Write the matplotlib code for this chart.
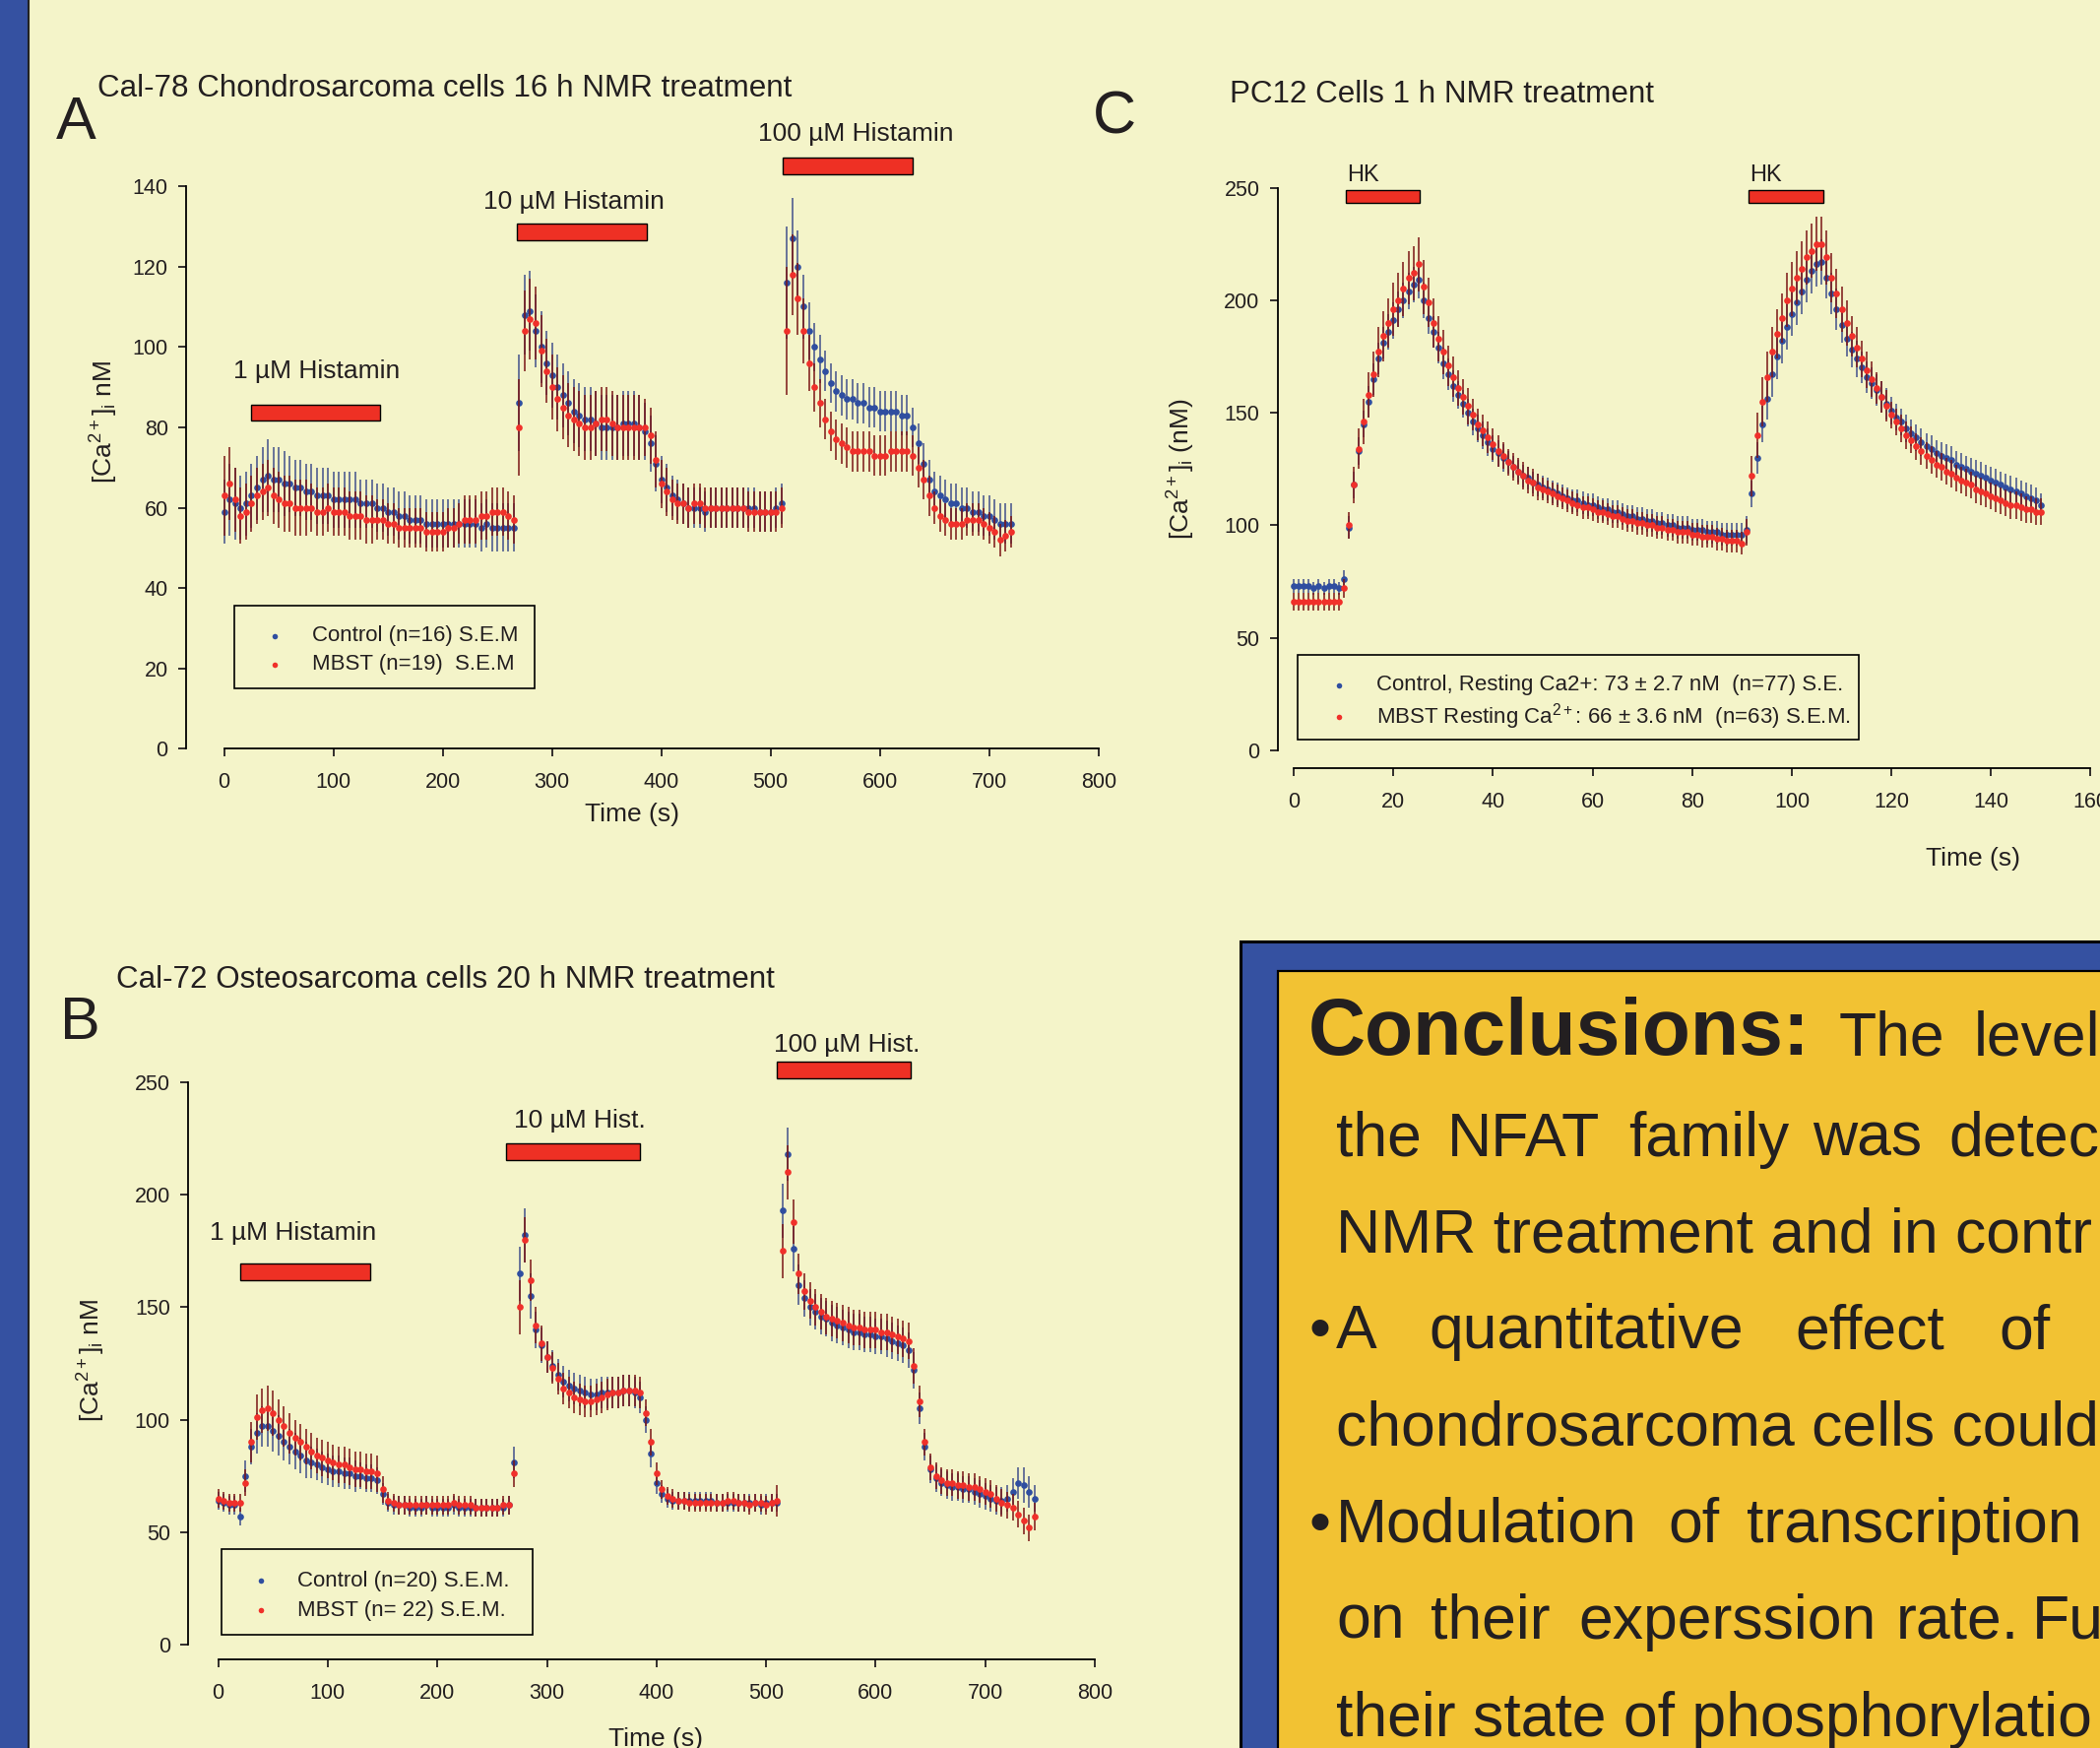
import numpy as np
import matplotlib
matplotlib.use("Agg")
import matplotlib.pyplot as plt
from matplotlib.patches import Rectangle
from matplotlib.lines import Line2D

plt.rcParams['font.family'] = ['Liberation Sans', 'DejaVu Sans']
plt.rcParams['mathtext.fontset'] = 'custom'
plt.rcParams['mathtext.rm'] = 'Liberation Sans'
plt.rcParams['mathtext.it'] = 'Liberation Sans:italic'
plt.rcParams['mathtext.bf'] = 'Liberation Sans:bold'

# ---------------- data ----------------
# panel A: Cal-78 chondrosarcoma, sampled every 5 s (0..720 s)
t_a = np.arange(0, 721, 5)
ctrl_a = [59, 62, 61, 60, 61, 63, 65, 67, 68, 67,
          67, 66, 66, 65, 65, 64, 64, 63, 63, 63,
          62, 62, 62, 62, 62, 61, 61, 61, 60, 60,
          59, 59, 58, 58, 57, 57, 57, 56, 56, 56,
          56, 56, 56, 56, 56, 56, 56, 55, 56, 55,
          55, 55, 55, 55, 86, 108, 109, 104, 100, 96,
          93, 90, 88, 86, 84, 83, 82, 82, 81, 80,
          80, 80, 80, 81, 81, 81, 80, 79, 76, 71,
          67, 65, 63, 62, 61, 60, 60, 60, 59, 60,
          60, 60, 60, 60, 60, 60, 60, 60, 59, 59,
          59, 60, 61, 116, 127, 120, 110, 104, 100, 97,
          94, 91, 89, 88, 87, 87, 86, 86, 85, 85,
          84, 84, 84, 84, 83, 83, 80, 76, 71, 67,
          64, 63, 62, 61, 61, 60, 60, 59, 59, 58,
          58, 57, 56, 56, 56]
ctrl_a_sem = [8, 9, 9, 8, 8, 8, 8, 8, 9, 8,
              8, 8, 7, 7, 7, 7, 7, 7, 7, 7,
              7, 7, 7, 7, 7, 6, 6, 6, 6, 6,
              6, 6, 6, 6, 6, 6, 6, 6, 6, 6,
              6, 6, 6, 6, 6, 6, 6, 6, 6, 6,
              6, 6, 6, 6, 12, 10, 10, 9, 9, 8,
              8, 8, 8, 8, 8, 8, 8, 8, 8, 8,
              8, 8, 8, 8, 8, 8, 8, 7, 7, 7,
              6, 6, 5, 5, 5, 5, 5, 5, 5, 5,
              5, 5, 5, 5, 5, 5, 5, 5, 5, 5,
              5, 5, 5, 14, 10, 9, 8, 7, 6, 6,
              5, 5, 5, 5, 5, 5, 5, 5, 5, 5,
              5, 5, 5, 5, 5, 5, 5, 5, 5, 5,
              5, 5, 5, 5, 5, 5, 5, 5, 5, 5,
              5, 5, 5, 5, 5]
mbst_a = [63, 66, 62, 58, 59, 61, 63, 64, 65, 63,
          62, 61, 61, 60, 60, 60, 60, 59, 59, 60,
          59, 59, 59, 58, 58, 58, 57, 57, 57, 57,
          56, 56, 55, 55, 55, 55, 55, 54, 54, 54,
          54, 55, 55, 56, 57, 57, 57, 58, 58, 59,
          59, 59, 58, 57, 80, 104, 107, 106, 99, 94,
          90, 87, 85, 83, 82, 81, 80, 80, 81, 82,
          82, 81, 80, 80, 80, 80, 80, 80, 78, 72,
          66, 64, 62, 61, 61, 60, 61, 61, 60, 60,
          60, 60, 60, 60, 60, 60, 59, 59, 59, 59,
          59, 59, 60, 104, 118, 112, 104, 96, 90, 86,
          82, 79, 77, 76, 75, 74, 74, 74, 74, 73,
          73, 73, 74, 74, 74, 74, 73, 70, 67, 63,
          60, 58, 57, 56, 56, 56, 57, 57, 57, 56,
          55, 54, 52, 53, 54]
mbst_a_sem = [10, 9, 8, 7, 7, 7, 7, 7, 7, 7,
              7, 7, 7, 7, 7, 7, 6, 6, 6, 6,
              6, 6, 6, 6, 6, 6, 6, 6, 5, 5,
              5, 5, 5, 5, 5, 5, 5, 5, 5, 5,
              5, 5, 5, 5, 6, 6, 6, 6, 6, 6,
              6, 6, 6, 6, 12, 10, 10, 9, 9, 8,
              8, 8, 8, 8, 8, 8, 8, 8, 8, 8,
              8, 8, 8, 8, 8, 8, 8, 7, 7, 7,
              6, 6, 5, 5, 5, 5, 5, 5, 5, 5,
              5, 5, 5, 5, 5, 5, 5, 5, 5, 5,
              5, 5, 5, 16, 10, 9, 8, 7, 6, 6,
              5, 5, 5, 5, 5, 5, 5, 5, 5, 5,
              5, 5, 5, 5, 5, 5, 5, 5, 5, 5,
              4, 4, 4, 4, 4, 4, 4, 4, 4, 4,
              4, 4, 4, 4, 4]
stim_a_on = [25, 268, 511]
stim_a_off = [143, 387, 630]
stim_a_names = ['1 µM Histamin', '10 µM Histamin', '100 µM Histamin']

# panel B: Cal-72 osteosarcoma, sampled every 5 s (0..745 s)
t_b = np.arange(0, 746, 5)
ctrl_b = [64, 63, 62, 62, 57, 75, 88, 94, 97, 97,
          95, 93, 90, 88, 86, 84, 82, 81, 80, 79,
          78, 77, 77, 76, 76, 75, 75, 74, 74, 73,
          67, 63, 62, 62, 62, 61, 61, 61, 62, 61,
          61, 61, 61, 62, 61, 61, 61, 61, 61, 61,
          61, 61, 61, 62, 81, 165, 182, 155, 140, 133,
          128, 124, 120, 117, 115, 114, 113, 112, 111, 111,
          112, 112, 112, 112, 113, 113, 112, 110, 100, 85,
          72, 67, 65, 64, 64, 64, 64, 64, 64, 64,
          64, 63, 63, 63, 63, 63, 63, 63, 63, 62,
          63, 63, 63, 193, 218, 176, 160, 154, 150, 148,
          146, 145, 143, 142, 141, 140, 139, 139, 138, 138,
          137, 137, 136, 135, 134, 133, 131, 122, 105, 88,
          78, 74, 72, 71, 70, 70, 69, 69, 68, 67,
          66, 65, 64, 64, 65, 68, 72, 71, 68, 65]
ctrl_b_sem = [4, 4, 4, 4, 4, 7, 8, 9, 9, 9,
              9, 9, 8, 8, 8, 8, 8, 7, 7, 7,
              7, 7, 7, 7, 7, 7, 6, 6, 6, 6,
              5, 4, 4, 4, 4, 4, 4, 4, 4, 4,
              4, 4, 4, 4, 4, 4, 4, 4, 4, 4,
              4, 4, 4, 4, 7, 12, 12, 10, 8, 8,
              7, 7, 7, 7, 7, 7, 7, 7, 7, 7,
              7, 7, 7, 7, 7, 7, 7, 7, 6, 6,
              5, 4, 4, 4, 4, 4, 4, 4, 4, 4,
              4, 4, 4, 4, 4, 4, 4, 4, 4, 4,
              4, 4, 4, 12, 12, 10, 9, 8, 8, 8,
              8, 8, 8, 8, 8, 8, 8, 8, 8, 8,
              8, 8, 8, 8, 8, 8, 8, 8, 7, 6,
              6, 6, 6, 6, 6, 6, 6, 6, 6, 6,
              6, 6, 6, 6, 6, 6, 7, 8, 7, 6]
mbst_b = [65, 64, 63, 63, 63, 72, 90, 101, 104, 105,
          103, 100, 97, 94, 92, 90, 88, 86, 84, 83,
          82, 81, 80, 80, 79, 78, 78, 77, 77, 76,
          69, 64, 63, 62, 62, 62, 62, 62, 62, 62,
          62, 62, 62, 63, 62, 62, 62, 61, 61, 61,
          61, 61, 62, 62, 76, 150, 180, 162, 142, 134,
          128, 123, 118, 114, 112, 110, 109, 108, 108, 109,
          110, 111, 112, 112, 113, 113, 113, 112, 103, 90,
          76, 69, 66, 65, 64, 64, 63, 63, 63, 63,
          63, 63, 63, 64, 64, 63, 63, 62, 63, 63,
          62, 63, 64, 175, 210, 188, 165, 157, 153, 150,
          148, 146, 145, 144, 143, 142, 141, 141, 140, 140,
          140, 139, 139, 138, 137, 136, 135, 124, 108, 90,
          79, 75, 73, 72, 72, 71, 71, 70, 70, 69,
          68, 67, 65, 63, 62, 61, 58, 55, 52, 57]
mbst_b_sem = [4, 4, 4, 4, 4, 6, 9, 10, 10, 10,
              10, 9, 9, 9, 8, 8, 8, 8, 8, 8,
              8, 8, 8, 8, 8, 8, 8, 8, 8, 8,
              6, 4, 4, 4, 4, 4, 4, 4, 4, 4,
              4, 4, 4, 4, 4, 4, 4, 4, 4, 4,
              4, 4, 4, 4, 6, 12, 10, 9, 8, 8,
              7, 7, 7, 7, 7, 7, 7, 7, 7, 7,
              7, 7, 7, 7, 7, 7, 7, 7, 6, 6,
              5, 4, 4, 4, 4, 4, 4, 4, 4, 4,
              4, 4, 4, 4, 4, 4, 4, 4, 4, 4,
              4, 4, 7, 12, 12, 10, 9, 8, 8, 8,
              8, 8, 8, 8, 8, 8, 8, 8, 8, 8,
              8, 8, 8, 8, 8, 8, 8, 8, 7, 6,
              6, 6, 6, 6, 6, 6, 6, 6, 6, 6,
              6, 6, 6, 6, 6, 6, 6, 6, 6, 6]
stim_b_on = [20, 263, 510]
stim_b_off = [139, 385, 632]
stim_b_names = ['1 µM Histamin', '10 µM Hist.', '100 µM Hist.']

# panel C: PC12 cells, sampled every 1 s (0..150 s)
t_c = np.arange(0, 151, 1)
ctrl_c = [73, 73, 73, 73, 72, 73, 72, 73, 73, 72,
          76, 99, 118, 133, 145, 155, 165, 174, 181, 186,
          191, 196, 200, 204, 207, 209, 200, 192, 186, 179,
          172, 167, 162, 158, 154, 150, 146, 143, 140, 137,
          134, 132, 130, 128, 126, 124, 122, 121, 119, 118,
          117, 116, 115, 114, 113, 112, 111, 111, 110, 109,
          109, 108, 107, 107, 106, 106, 105, 104, 104, 103,
          103, 102, 102, 101, 101, 100, 100, 99, 99, 99,
          98, 98, 98, 97, 97, 97, 96, 96, 96, 96,
          96, 98, 114, 130, 145, 156, 167, 175, 182, 188,
          194, 199, 204, 209, 213, 216, 217, 210, 203, 196,
          189, 183, 178, 174, 170, 166, 163, 160, 157, 154,
          151, 148, 146, 143, 141, 139, 137, 135, 134, 132,
          131, 130, 129, 127, 126, 125, 124, 123, 122, 121,
          120, 119, 118, 117, 116, 115, 114, 113, 112, 111,
          109]
ctrl_c_sem = [3, 3, 3, 3, 3, 3, 3, 3, 3, 3,
              4, 5, 6, 6, 6, 7, 7, 7, 7, 8,
              8, 8, 8, 8, 8, 8, 8, 7, 7, 7,
              7, 7, 7, 6, 6, 6, 6, 6, 6, 6,
              6, 6, 6, 5, 5, 5, 5, 5, 5, 5,
              5, 5, 5, 5, 5, 5, 5, 5, 5, 5,
              5, 5, 5, 5, 5, 5, 5, 5, 5, 5,
              5, 5, 5, 5, 5, 5, 5, 5, 5, 5,
              5, 5, 5, 5, 5, 5, 5, 5, 5, 5,
              5, 6, 6, 7, 8, 9, 10, 10, 10, 10,
              10, 10, 10, 10, 10, 10, 10, 9, 9, 9,
              8, 8, 8, 8, 7, 7, 7, 7, 7, 7,
              6, 6, 6, 6, 6, 6, 6, 6, 6, 6,
              6, 6, 6, 6, 6, 6, 6, 6, 6, 6,
              6, 6, 6, 6, 6, 6, 6, 6, 6, 6,
              5]
mbst_c = [66, 66, 66, 66, 66, 66, 66, 66, 66, 66,
          72, 100, 118, 134, 146, 158, 167, 177, 184, 190,
          196, 200, 205, 210, 212, 216, 206, 199, 190, 183,
          177, 171, 166, 161, 157, 153, 149, 145, 142, 139,
          136, 133, 131, 128, 126, 124, 122, 120, 119, 117,
          116, 115, 114, 113, 112, 111, 110, 109, 108, 108,
          107, 106, 106, 105, 104, 104, 103, 102, 102, 101,
          101, 100, 100, 99, 99, 98, 98, 97, 97, 97,
          96, 96, 95, 95, 95, 94, 94, 93, 93, 93,
          92, 97, 122, 140, 155, 166, 177, 185, 192, 200,
          205, 210, 214, 219, 222, 225, 225, 219, 210, 203,
          196, 190, 184, 179, 174, 169, 165, 161, 157, 153,
          149, 146, 143, 140, 138, 135, 133, 131, 129, 127,
          126, 124, 123, 121, 120, 119, 118, 116, 115, 114,
          113, 112, 111, 110, 109, 109, 108, 107, 107, 106,
          106]
mbst_c_sem = [4, 4, 4, 4, 4, 4, 4, 4, 4, 4,
              4, 6, 8, 9, 10, 10, 10, 11, 11, 11,
              12, 12, 12, 12, 12, 12, 12, 11, 11, 10,
              10, 9, 9, 8, 8, 8, 7, 7, 7, 7,
              7, 7, 6, 6, 6, 6, 6, 6, 6, 6,
              5, 5, 5, 5, 5, 5, 5, 5, 5, 5,
              5, 5, 5, 5, 5, 5, 5, 5, 5, 5,
              5, 5, 5, 5, 5, 5, 5, 5, 5, 5,
              5, 5, 5, 5, 5, 5, 5, 5, 5, 5,
              5, 6, 9, 10, 11, 11, 11, 11, 11, 12,
              12, 12, 12, 12, 12, 12, 12, 12, 11, 11,
              10, 10, 9, 9, 8, 8, 8, 7, 7, 7,
              6, 6, 6, 6, 6, 6, 6, 6, 6, 6,
              6, 6, 6, 6, 6, 6, 6, 6, 6, 6,
              6, 6, 6, 6, 6, 6, 6, 6, 6, 6,
              6]
stim_c_on = [10.4, 91.3]
stim_c_off = [25.3, 106.3]

# ---------------- style ----------------
W, H = 2133, 1775
BG = '#F4F4C9'
FRAME = '#3551A1'
GOLD = '#F2C233'
INK = '#231F20'
BLUE = '#2F4EA0'
RED = '#F0302A'
BLUE_EB = '#3A4888C0'
RED_EB = '#7A1515C8'
BAR = '#EE3024'

fig = plt.figure(figsize=(W / 100, H / 100), dpi=100)
fig.patch.set_facecolor(BG)


def fx(x):
    return x / W


def fy(y):
    return 1 - y / H


def fig_rect(x0, y0, x1, y1, **kw):
    fig.add_artist(Rectangle((fx(x0), fy(y1)), (x1 - x0) / W, (y1 - y0) / H,
                             transform=fig.transFigure, **kw))


# left poster stripe
fig_rect(-5, -5, 28, H + 5, facecolor=FRAME, edgecolor='none')
fig.add_artist(Line2D([fx(29), fx(29)], [0, 1], transform=fig.transFigure,
                      color='#222222', lw=1.5))


def make_axes(left, top, right, bottom, xlim, ylim, xticks, yticks):
    ax = fig.add_axes([fx(left), fy(bottom), (right - left) / W, (bottom - top) / H])
    ax.set_facecolor('none')
    ax.set_xlim(*xlim)
    ax.set_ylim(*ylim)
    ax.set_xticks(xticks)
    ax.set_yticks(yticks)
    for s in ('top', 'right'):
        ax.spines[s].set_visible(False)
    ax.spines['left'].set_bounds(yticks[0], yticks[-1])
    ax.spines['bottom'].set_bounds(xticks[0], xticks[-1])
    for s in ('left', 'bottom'):
        ax.spines[s].set_linewidth(1.3)
    ax.tick_params(direction='out', length=6, width=1.3, labelsize=15.5,
                   colors=INK)
    ax.tick_params(axis='x', pad=11)
    ax.tick_params(axis='y', pad=7)
    return ax


def traces(ax, t, ctrl, ctrl_sem, mbst, mbst_sem, ms=4.8):
    ax.errorbar(t, ctrl, yerr=ctrl_sem, fmt='o', ms=ms, mfc=BLUE, mec=BLUE, mew=0,
                ecolor=BLUE_EB, elinewidth=1.4, capsize=3.0, capthick=1.4, zorder=3)
    ax.errorbar(t, mbst, yerr=mbst_sem, fmt='o', ms=ms, mfc=RED, mec=RED, mew=0,
                ecolor=RED_EB, elinewidth=1.4, capsize=3.0, capthick=1.4, zorder=4)


def stim_bars(ax, on, off, y0, y1):
    for a, b in zip(on, off):
        ax.add_patch(Rectangle((a, y0), b - a, y1 - y0, facecolor=BAR,
                               edgecolor='black', lw=1.0, clip_on=False, zorder=5))


def legend_box(x0, y0, x1, y1, rows, size=16):
    fig_rect(x0, y0, x1, y1, fill=False, edgecolor='black', lw=1.2)
    for mx, tx, y, color, label in rows:
        fig.add_artist(Line2D([fx(mx)], [fy(y)], transform=fig.transFigure,
                              marker='o', ms=4, mfc=color, mec=color, mew=0, ls='none'))
        fig.text(fx(tx), fy(y), label, fontsize=size, color=INK, va='center', ha='left')


# ---------------- panel A ----------------
ax_a = make_axes(188.8, 189, 1115.7, 760.5, (-35, 800), (0, 140),
                 np.arange(0, 801, 100), np.arange(0, 141, 20))
traces(ax_a, t_a, ctrl_a, ctrl_a_sem, mbst_a, mbst_a_sem)
for (a, b, y0, y1) in [(stim_a_on[0], stim_a_off[0], 81.7, 85.7),
                       (stim_a_on[1], stim_a_off[1], 126.5, 130.7),
                       (stim_a_on[2], stim_a_off[2], 143.0, 147.0)]:
    stim_bars(ax_a, [a], [b], y0, y1)
for name, x, y in zip(stim_a_names, [85, 320, 578], [92.2, 134.4, 151.2]):
    ax_a.text(x, y, name, fontsize=19, ha='center', va='baseline', color=INK, clip_on=False)
fig.text(fx(99), fy(98), 'Cal-78 Chondrosarcoma cells 16 h NMR treatment',
         fontsize=22.6, color=INK, va='baseline')
fig.text(fx(57), fy(141), 'A', fontsize=44, color=INK, va='baseline')
fig.text(fx(642), fy(827), 'Time (s)', fontsize=19, color=INK, ha='center', va='center')
fig.text(fx(106), fy(428), r'[Ca$^{\mathrm{2+}}$]$_{\mathrm{i}}$ nM', fontsize=19,
         color=INK, ha='center', va='center', rotation=90)
legend_box(238, 615, 543, 699, [(279, 317, 646, BLUE, 'Control (n=16) S.E.M'),
                                (279, 317, 674.6, RED, 'MBST (n=19)  S.E.M')])

# ---------------- panel B ----------------
ax_b = make_axes(191, 1099, 1112, 1685, (-27.5, 800), (-6.57, 250),
                 np.arange(0, 801, 100), np.arange(0, 251, 50))
traces(ax_b, t_b, ctrl_b, ctrl_b_sem, mbst_b, mbst_b_sem)
for (a, b, y0, y1) in [(stim_b_on[0], stim_b_off[0], 162.0, 169.4),
                       (stim_b_on[1], stim_b_off[1], 215.4, 222.8),
                       (stim_b_on[2], stim_b_off[2], 251.7, 259.0)]:
    stim_bars(ax_b, [a], [b], y0, y1)
for name, x, y in zip(stim_b_names, [68, 330, 574], [180, 230, 263.7]):
    ax_b.text(x, y, name, fontsize=19, ha='center', va='baseline', color=INK, clip_on=False)
fig.text(fx(118), fy(1003), 'Cal-72 Osteosarcoma cells 20 h NMR treatment',
         fontsize=22.6, color=INK, va='baseline')
fig.text(fx(61), fy(1055), 'B', fontsize=44, color=INK, va='baseline')
fig.text(fx(666), fy(1766), 'Time (s)', fontsize=19, color=INK, ha='center', va='center')
fig.text(fx(92.5), fy(1381), r'[Ca$^{\mathrm{2+}}$]$_{\mathrm{i}}$ nM', fontsize=19,
         color=INK, ha='center', va='center', rotation=90)
legend_box(224.5, 1572.5, 541.4, 1659.6, [(265, 302, 1605, BLUE, 'Control (n=20) S.E.M.'),
                                          (265, 302, 1635, RED, 'MBST (n= 22) S.E.M.')])

# ---------------- panel C ----------------
ax_c = make_axes(1297.6, 190.6, 2123.4, 780, (-3.28, 160), (-7.88, 250),
                 np.arange(0, 161, 20), np.arange(0, 251, 50))
traces(ax_c, t_c, ctrl_c, ctrl_c_sem, mbst_c, mbst_c_sem)
stim_bars(ax_c, stim_c_on, stim_c_off, 243.1, 248.8)
for x in stim_c_on:
    ax_c.text(x + 0.3, 253, 'HK', fontsize=17, ha='left', va='baseline', color=INK, clip_on=False)
fig.text(fx(1249), fy(104), 'PC12 Cells 1 h NMR treatment',
         fontsize=22.6, color=INK, va='baseline')
fig.text(fx(1110), fy(136), 'C', fontsize=44, color=INK, va='baseline')
fig.text(fx(2004), fy(872), 'Time (s)', fontsize=19, color=INK, ha='center', va='center')
fig.text(fx(1200), fy(476), r'[Ca$^{\mathrm{2+}}$]$_{\mathrm{i}}$ (nM)', fontsize=19,
         color=INK, ha='center', va='center', rotation=90)
legend_box(1318, 665, 1888, 751,
           [(1360, 1398, 696, BLUE, 'Control, Resting Ca2+: 73 ± 2.7 nM  (n=77) S.E.'),
            (1360, 1398, 727.7, RED, r'MBST Resting Ca$^{\mathrm{2+}}$: 66 ± 3.6 nM  (n=63) S.E.M.')])

# ---------------- conclusions box ----------------
fig_rect(1260, 956, 2160, 1800, facecolor=FRAME, edgecolor='black', lw=2.2)
fig_rect(1298, 986, 2160, 1800, facecolor=GOLD, edgecolor='black', lw=1.6)

body = 45
fig.text(fx(1329), fy(1071), 'Conclusions:', fontsize=58, fontweight='bold',
         color=INK, va='baseline')
conclusion_words = [
    (1071, [(1868, 'The'), (2004.5, 'level')]),
    (1173.6, [(1357, 'the'), (1469.6, 'NFAT'), (1654, 'family'), (1841, 'was'),
              (1979, 'detec')]),
    (1272, [(1357, 'NMR treatment and in contr')]),
    (1369, [(1357, 'A'), (1451.6, 'quantitative'), (1823, 'effect'), (2030, 'of')]),
    (1468, [(1357, 'chondrosarcoma cells could')]),
    (1565.6, [(1357, 'Modulation'), (1694, 'of'), (1774, 'transcription')]),
    (1664, [(1357, 'on'), (1452.7, 'their'), (1603.6, 'experssion'), (1925.6, 'rate.'),
            (2064, 'Fu')]),
    (1763, [(1357, 'their state of phosphorylatio')]),
]
for y, words in conclusion_words:
    for x, w in words:
        fig.text(fx(x), fy(y), w, fontsize=body, color=INK, va='baseline')
for y in (1369, 1565.6):
    fig.text(fx(1329), fy(y), '•', fontsize=body, color=INK, va='baseline')

fig.savefig('out.png', dpi=100, facecolor=fig.get_facecolor())
